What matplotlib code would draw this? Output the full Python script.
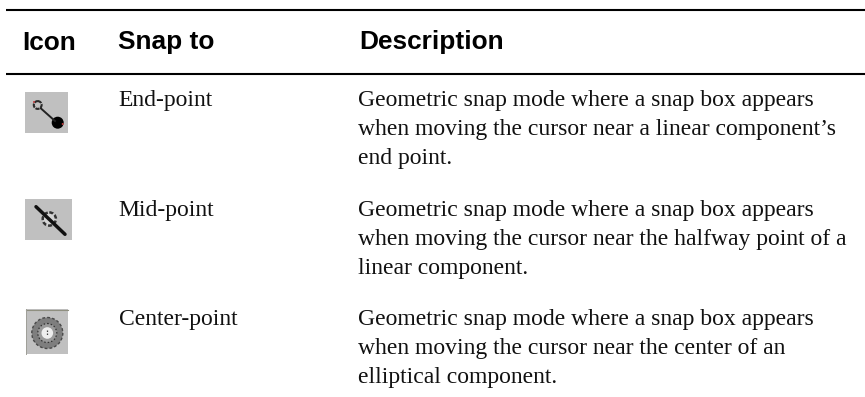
import matplotlib
matplotlib.use("Agg")
import matplotlib.pyplot as plt
from matplotlib.patches import Rectangle, Circle

headers = ["Icon", "Snap to", "Description"]
snap_to = ["End-point", "Mid-point", "Center-point"]
descriptions = [
    ["Geometric snap mode where a snap box appears",
     "when moving the cursor near a linear component\u2019s",
     "end point."],
    ["Geometric snap mode where a snap box appears",
     "when moving the cursor near the halfway point of a",
     "linear component."],
    ["Geometric snap mode where a snap box appears",
     "when moving the cursor near the center of an",
     "elliptical component."],
]

W, H = 865, 397
fig = plt.figure(figsize=(W / 100, H / 100), dpi=100)
ax = fig.add_axes([0, 0, 1, 1])
ax.set_xlim(0, W)
ax.set_ylim(H, 0)
ax.axis("off")

ax.plot([6, W], [10, 10], color="black", lw=1.5, solid_capstyle="butt")
ax.plot([6, W], [74, 74], color="black", lw=1.5, solid_capstyle="butt")

hx = [22.5, 118.5, 359.5]
for x, t in zip(hx, headers):
    ax.text(x, 49.5, t, family="Liberation Sans", weight="bold", fontsize=18.9,
            color="black", ha="left", va="baseline")

row_y = [106, 216, 325]
line_h = 29.2
for y, s, d in zip(row_y, snap_to, descriptions):
    ax.text(118.5, y, s, family="Liberation Serif", fontsize=17, color="#111111",
            ha="left", va="baseline")
    for i, line in enumerate(d):
        ax.text(358.5, y + i * line_h, line, family="Liberation Serif", fontsize=17,
                color="#111111", ha="left", va="baseline")

grey = "#c0c0c0"
# End-point icon
ax.add_patch(Rectangle((25, 92), 43, 41, fc=grey, ec="none"))
ax.plot([41, 55], [108.5, 121], color="#222222", lw=1.4)
ax.add_patch(Circle((37.7, 105), 3.9, fc=grey, ec="#2a2a2a", lw=1.5, ls=(0, (2, 0.5))))
ax.add_patch(Circle((57.7, 122.7), 6.0, fc="black", ec="none"))
ax.add_patch(Circle((34, 102), 1.0, fc="#c04040", ec="none"))
ax.add_patch(Circle((62.7, 124), 1.0, fc="#c04040", ec="none"))

# Mid-point icon
ax.add_patch(Rectangle((25, 199), 47, 41, fc=grey, ec="none"))
ax.plot([36, 65], [206.7, 234.3], color="#111111", lw=2.5, solid_capstyle="round")
ax.add_patch(Circle((49.3, 219), 6.6, fc="#d4d4d4", ec="#333333", lw=1.8, ls=(0, (1.6, 0.8))))

# Center-point icon
ax.add_patch(Rectangle((26, 309), 42, 44.5, fc=grey, ec="none"))
ax.plot([26, 68], [309.5, 309.5], color="#8f8f80", lw=0.8)
ax.plot([26.3, 26.3], [309, 353.5], color="#a0a098", lw=0.7)
ax.add_patch(Circle((47.3, 333), 15.5, fc="#7e7e7e", ec="#484848", lw=1.0, ls=(0, (2, 1.5))))
ax.add_patch(Circle((47.3, 333), 9.5, fc="#9a9a9a", ec="#333333", lw=0.9, ls=(0, (1.2, 1.6))))
ax.add_patch(Circle((47.3, 333), 5.8, fc="#eeeeee", ec="none"))
ax.plot([47.3, 47.3], [330, 336], color="#444444", lw=0.9, ls=(0, (1.2, 1.2)))

fig.savefig("out.png", dpi=100, facecolor="white")
